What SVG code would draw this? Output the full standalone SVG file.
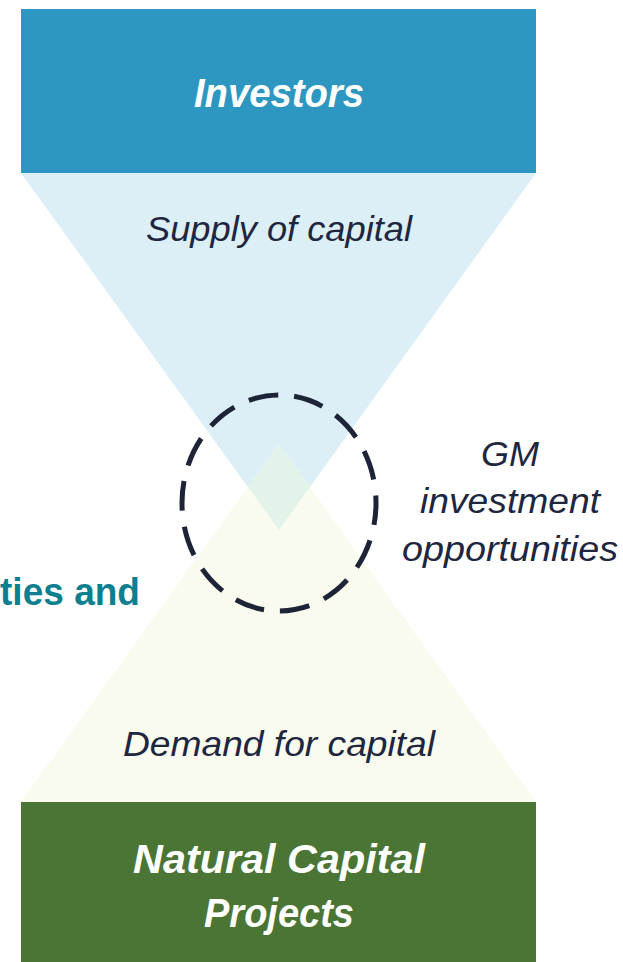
<svg xmlns="http://www.w3.org/2000/svg" width="623" height="962" viewBox="0 0 623 962">
<style>
.it{font-family:"Liberation Sans","Open Sans",sans-serif;font-style:italic;text-anchor:middle}
.w{fill:#ffffff;font-weight:bold}
.d{fill:#1f2640}
</style>
<rect width="623" height="962" fill="#ffffff"/>
<g id="supply-funnel">
<polygon points="21,173 536,173 279,530" fill="#dceef6"/>
</g>
<g id="demand-funnel">
<polygon points="279,444 536,802 21,802" fill="#f8fbee"/>
<polygon points="279,444 310,487 279,530 248,487" fill="#e4f3ea"/>
</g>
<g id="investors">
<rect x="21" y="9" width="515" height="164" fill="#2e97c1"/>
<text class="it w" x="279" y="107" font-size="41" textLength="170" lengthAdjust="spacingAndGlyphs">Investors</text>
</g>
<g id="supply-label">
<text class="it d" x="279" y="241" font-size="35" textLength="266" lengthAdjust="spacingAndGlyphs">Supply of capital</text>
</g>
<g id="projects">
<rect x="21" y="802" width="515" height="160" fill="#4a7535"/>
<text class="it w" x="279" y="873" font-size="41" textLength="292" lengthAdjust="spacingAndGlyphs">Natural Capital</text>
<text class="it w" x="279" y="927" font-size="41" textLength="150" lengthAdjust="spacingAndGlyphs">Projects</text>
</g>
<g id="demand-label">
<text class="it d" x="279" y="756" font-size="35" textLength="312" lengthAdjust="spacingAndGlyphs">Demand for capital</text>
</g>
<g id="gm-circle">
<ellipse cx="279" cy="503" rx="97" ry="108" fill="none" stroke="#1e2438" stroke-width="5" stroke-dasharray="30,16" stroke-dashoffset="8"/>
</g>
<g id="gm-label">
<text class="it d" x="510" y="466" font-size="35" textLength="58" lengthAdjust="spacingAndGlyphs">GM</text>
<text class="it d" x="510" y="513" font-size="35" textLength="180" lengthAdjust="spacingAndGlyphs">investment</text>
<text class="it d" x="510" y="561" font-size="35" textLength="216" lengthAdjust="spacingAndGlyphs">opportunities</text>
</g>
<g id="side-label">
<text x="140" y="605" font-family="Liberation Sans,sans-serif" font-weight="bold" font-size="38" fill="#0e7f8f" text-anchor="end" textLength="140" lengthAdjust="spacingAndGlyphs">ties and</text>
</g>
<g id="connectors"></g>
</svg>
